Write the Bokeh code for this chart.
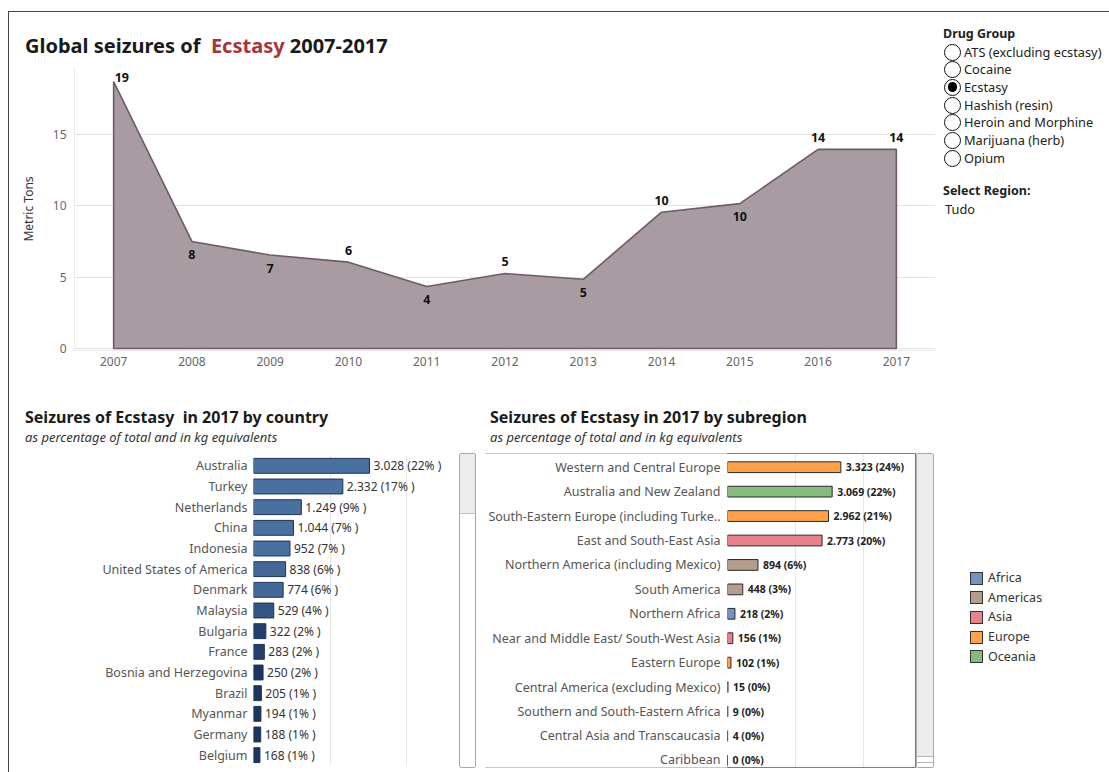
from bokeh.plotting import figure
from bokeh.models import ColumnDataSource, Div, Spacer, FixedTicker, Range1d, FactorRange
from bokeh.layouts import row, column
from bokeh.transform import factor_cmap, linear_cmap
from bokeh.core.properties import value
from bokeh.embed import file_html
from bokeh.resources import INLINE

FONT = "Noto Sans"

# ---------------- data ----------------
years = [2007, 2008, 2009, 2010, 2011, 2012, 2013, 2014, 2015, 2016, 2017]
tons = [18.7, 7.5, 6.55, 6.05, 4.35, 5.25, 4.85, 9.55, 10.15, 13.95, 13.95]
y_ticks = [0, 5, 10, 15]

countries = ["Australia", "Turkey", "Netherlands", "China", "Indonesia",
             "United States of America", "Denmark", "Malaysia", "Bulgaria", "France",
             "Bosnia and Herzegovina", "Brazil", "Myanmar", "Germany", "Belgium"]
country_kg = [3028, 2332, 1249, 1044, 952, 838, 774, 529, 322, 283, 250, 205, 194, 188, 168]
country_pct = [22, 17, 9, 7, 7, 6, 6, 4, 2, 2, 2, 1, 1, 1, 1]

subregions = ["Western and Central Europe", "Australia and New Zealand",
              "South-Eastern Europe (including Turke..", "East and South-East Asia",
              "Northern America (including Mexico)", "South America", "Northern Africa",
              "Near and Middle East/ South-West Asia", "Eastern Europe",
              "Central America (excluding Mexico)", "Southern and South-Eastern Africa",
              "Central Asia and Transcaucasia", "Caribbean"]
sub_kg = [3323, 3069, 2962, 2773, 894, 448, 218, 156, 102, 15, 9, 4, 0]
sub_pct = [24, 22, 21, 20, 6, 3, 2, 1, 1, 0, 0, 0, 0]
sub_region = ["Europe", "Oceania", "Europe", "Asia", "Americas", "Americas", "Africa",
              "Asia", "Europe", "Americas", "Africa", "Asia", "Americas"]

regions = ["Africa", "Americas", "Asia", "Europe", "Oceania"]
region_colors = ["#7195c0", "#b59d8e", "#e8828b", "#ffa14b", "#86bb7d"]

drug_groups = ["ATS (excluding ecstasy)", "Cocaine", "Ecstasy", "Hashish (resin)",
               "Heroin and Morphine", "Marijuana (herb)", "Opium"]
selected_drug = "Ecstasy"

# label placement for the area chart (style only)
label_place = ["right", "below", "below", "above", "below", "above", "below",
               "above", "below", "above", "above"]


def fmt_kg(v):
    return f"{v:,}".replace(",", ".")


# ---------------- area chart ----------------
pa = figure(width=926, height=325, x_range=Range1d(2006.5, 2017.5),
            y_range=Range1d(-0.14, 19.69), output_backend="svg",
            toolbar_location=None, title=None,
            min_border_left=65, min_border_right=0, min_border_top=7,
            min_border_bottom=35)
pa.outline_line_color = None
pa.background_fill_color = "white"
pa.patch(x=years + [years[-1], years[0]], y=tons + [0, 0],
         fill_color="#a89ba2", fill_alpha=1.0, line_color="#6d5c66", line_width=1.6)

lab = [str(int(v + 0.5)) for v in tons]
for place, kw in [("right", dict(text_align="left", x_offset=1, y_offset=-4)),
                  ("above", dict(text_align="center", y_offset=-12)),
                  ("below", dict(text_align="center", y_offset=13))]:
    idx = [i for i, p_ in enumerate(label_place) if p_ == place]
    src = ColumnDataSource(dict(x=[years[i] for i in idx], y=[tons[i] for i in idx],
                                t=[lab[i] for i in idx]))
    pa.text(x="x", y="y", text="t", source=src, text_font=value(FONT),
            text_font_size="12.5px", text_font_style="bold", text_color="#111111",
            text_baseline="middle", **kw)

pa.xaxis.ticker = FixedTicker(ticks=years)
pa.yaxis.ticker = FixedTicker(ticks=y_ticks)
pa.xgrid.visible = False
pa.ygrid.grid_line_color = "#e4e4e4"
pa.ygrid.grid_line_width = 1
for ax in (pa.xaxis, pa.yaxis):
    ax.major_tick_line_color = None
    ax.minor_tick_line_color = None
    ax.major_tick_out = 0
    ax.major_tick_in = 0
    ax.axis_line_color = "#ececec"
    ax.major_label_text_font = FONT
    ax.major_label_text_font_size = "12px"
    ax.major_label_text_color = "#666666"
pa.xaxis.major_label_standoff = 6
pa.yaxis.major_label_standoff = 8
pa.yaxis.axis_label = "Metric Tons"
pa.yaxis.axis_label_text_font = FONT
pa.yaxis.axis_label_text_font_size = "12px"
pa.yaxis.axis_label_text_font_style = "normal"
pa.yaxis.axis_label_text_color = "#333333"
pa.yaxis.axis_label_standoff = 13

# ---------------- country chart ----------------
csrc = ColumnDataSource(dict(country=countries, kg=country_kg,
                             lbl=[f"{fmt_kg(v)} ({p}% )" for v, p in zip(country_kg, country_pct)]))
pc = figure(width=450, height=315, y_range=FactorRange(factors=countries[::-1]),
            x_range=Range1d(0, 5351), x_axis_location=None, output_backend="svg",
            toolbar_location=None, title=None,
            min_border_left=244, min_border_right=1, min_border_top=2, min_border_bottom=3)
pc.outline_line_color = None
blue_palette = ["#1d365f", "#243f6c", "#2c4a79", "#345584", "#3c5f8e", "#436897", "#4a70a0"]
pc.hbar(y="country", left=0, right="kg", height=0.72, source=csrc,
        fill_color=linear_cmap("kg", blue_palette, 150, 1000),
        line_color="#1b3258", line_width=1)
pc.text(x="kg", y="country", text="lbl", source=csrc, x_offset=4,
        text_font=value(FONT), text_font_size="12px", text_color="#333333",
        text_baseline="middle", text_align="left")
pc.xgrid.ticker = FixedTicker(ticks=[2000, 4000])
pc.xgrid.grid_line_color = "#e6e6e6"
pc.ygrid.visible = False
pc.yaxis.major_tick_line_color = None
pc.yaxis.major_tick_out = 0
pc.yaxis.major_tick_in = 0
pc.yaxis.axis_line_color = None
pc.yaxis.major_label_standoff = 6
pc.yaxis.major_label_text_font = FONT
pc.yaxis.major_label_text_font_size = "12.5px"
pc.yaxis.major_label_text_color = "#555555"

# ---------------- subregion chart ----------------
ssrc = ColumnDataSource(dict(pos=list(range(len(subregions))), kg=sub_kg, region=sub_region,
                             lbl=[f"{fmt_kg(v)} ({p}%)" for v, p in zip(sub_kg, sub_pct)]))
ps = figure(width=430, height=313, y_range=Range1d(12.29, -0.52),
            x_range=Range1d(0, 5513), x_axis_location=None, output_backend="svg",
            toolbar_location=None, title=None,
            min_border_left=242, min_border_right=0, min_border_top=0, min_border_bottom=0)
ps.outline_line_color = None
ps.hbar(y="pos", left=0, right="kg", height=0.44, source=ssrc,
        fill_color=factor_cmap("region", region_colors, regions),
        line_color="#2a2a2a", line_width=1)
ps.text(x="kg", y="pos", text="lbl", source=ssrc, x_offset=5,
        text_font=value(FONT), text_font_size="10.5px", text_font_style="bold",
        text_color="#222222", text_baseline="middle", text_align="left")
ps.xgrid.ticker = FixedTicker(ticks=[2000, 4000])
ps.xgrid.grid_line_color = "#e6e6e6"
ps.ygrid.visible = False
ps.yaxis.ticker = FixedTicker(ticks=list(range(len(subregions))))
ps.yaxis.major_label_overrides = {i: s for i, s in enumerate(subregions)}
ps.yaxis.major_tick_line_color = None
ps.yaxis.minor_tick_line_color = None
ps.yaxis.major_tick_out = 0
ps.yaxis.major_tick_in = 0
ps.yaxis.axis_line_color = None
ps.yaxis.major_label_standoff = 7
ps.yaxis.major_label_text_font = FONT
ps.yaxis.major_label_text_font_size = "12.5px"
ps.yaxis.major_label_text_color = "#555555"


# ---------------- html helpers ----------------
def box(w, h, inner):
    html = (f'<div style="position:relative;width:{w}px;height:{h}px;overflow:hidden;'
            f'font-family:\'{FONT}\',sans-serif;">{inner}</div>')
    return Div(text=html, width=w, height=h, margin=0)


def atext(x, yc, txt, size, weight="normal", color="#333", style="normal", lh=None):
    lh = lh or int(size * 1.35)
    return (f'<div style="position:absolute;left:{x}px;top:{yc - lh / 2}px;line-height:{lh}px;'
            f'font-size:{size}px;font-weight:{weight};font-style:{style};color:{color};'
            f'white-space:nowrap;">{txt}</div>')


def line_div(w, h, color):
    return Div(text="", width=w, height=h, margin=0,
               styles={"background-color": color, "overflow": "hidden"})


title_html = atext(16, 33, 'Global seizures of&nbsp; <span style="color:#a8333a">Ecstasy</span> 2007-2017',
                   20, "bold", "#1a1a1a")
title_div = box(926, 48, title_html)

# right panel with radio list
rp = atext(8, 22, "Drug Group", 12.5, "bold", "#222")
for i, g in enumerate(drug_groups):
    c = 40 + i * 17.7
    dot = ""
    if g == selected_drug:
        dot = ('<div style="position:absolute;left:2.6px;top:2.6px;width:9.2px;height:9.2px;'
               'border-radius:50%;background:#000;"></div>')
    rp += (f'<div style="position:absolute;left:9px;top:{c - 8.5}px;width:17px;height:17px;'
           f'box-sizing:border-box;border:1.3px solid #111;border-radius:50%;background:#fff;">{dot}</div>')
    rp += atext(29, c, g, 12.8, "normal", "#222")
rp += atext(8, 179, "Select Region:", 12.5, "bold", "#222")
rp += atext(10, 197, "Tudo", 12.8, "normal", "#222")
right_div = box(174, 373, rp)

# bottom titles
ct = atext(16, 32, "Seizures of Ecstasy&nbsp; in 2017 by country", 16, "bold", "#1a1a1a")
ct += atext(16, 52, "as percentage of total and in kg equivalents", 13, "normal", "#333", "italic")
ctitle_div = box(471, 68, ct)

st = atext(10, 32, "Seizures of Ecstasy in 2017 by subregion", 16, "bold", "#1a1a1a")
st += atext(10, 52, "as percentage of total and in kg equivalents", 13, "normal", "#333", "italic")
stitle_div = box(455, 68, st)

# legend
lg = ""
for i, (r, col) in enumerate(zip(regions, region_colors)):
    c = 193 + i * 19.7
    lg += (f'<div style="position:absolute;left:35px;top:{c - 6.5}px;width:13px;height:13px;'
           f'box-sizing:border-box;border:1.3px solid #333;background:{col};"></div>')
    lg += atext(53, c, r, 12.5, "normal", "#333")
legend_div = box(174, 387, lg)

# scrollbars
scroll1 = box(17, 315, '<div style="position:absolute;left:0;top:0;width:17px;height:315px;box-sizing:border-box;'
                       'border:1px solid #a8a8a8;border-radius:2px;"></div>'
                       '<div style="position:absolute;left:1px;top:1px;width:15px;height:60px;'
                       'background:#ececec;border-bottom:1px solid #c4c4c4;"></div>')
scroll2 = box(18, 315, '<div style="position:absolute;left:0;top:0;width:18px;height:315px;box-sizing:border-box;'
                       'border:1px solid #a8a8a8;border-radius:2px;"></div>'
                       '<div style="position:absolute;left:1px;top:1px;width:16px;height:303px;'
                       'background:#ececec;border-bottom:1px solid #b4b4b4;"></div>'
                       '<div style="position:absolute;left:1px;top:309px;width:16px;height:1px;'
                       'background:#b4b4b4;"></div>')

# sub frame lines
top_line = row(line_div(242, 1, "#c8c8c8"), line_div(189, 1, "#808080"))
bot_line = row(line_div(242, 1, "#c8c8c8"), line_div(189, 1, "#808080"))

country_block = column(ctitle_div,
                       row(pc, scroll1, Spacer(width=4, height=315)),
                       Spacer(width=471, height=4))
sub_block = column(stitle_div,
                   row(Spacer(width=5, height=315),
                       column(top_line, row(ps, line_div(1, 313, "#808080")), bot_line),
                       scroll2, Spacer(width=1, height=315)),
                   Spacer(width=455, height=4))

body = column(row(column(title_div, pa), right_div),
              row(country_block, sub_block, legend_div))

root = column(Spacer(width=1109, height=11),
              row(Spacer(width=8, height=761),
                  column(line_div(1101, 1, "#444444"),
                         row(line_div(1, 760, "#444444"), body))))

open("out.html", "w").write(file_html(root, INLINE))
